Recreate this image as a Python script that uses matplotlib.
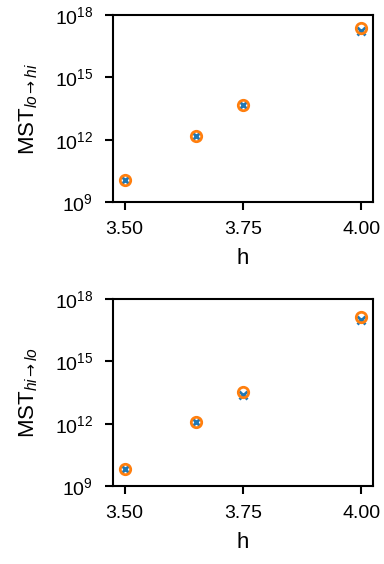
import matplotlib
matplotlib.use("Agg")
from matplotlib import pyplot as plt
from matplotlib import ticker

h = [3.50, 3.65, 3.75, 4.00]

# lo -> hi
mst_lo_hi_x = [1.2e10, 1.5e12, 4.5e13, 1.7e17]
mst_lo_hi_o = [1.2e10, 1.5e12, 4.5e13, 2.5e17]
# hi -> lo
mst_hi_lo_x = [6.6e9, 1.15e12, 2.5e13, 9.3e16]
mst_hi_lo_o = [6.6e9, 1.15e12, 3.4e13, 1.3e17]

ylabels = [r'MST$_{lo\mathsf{\rightarrow}hi}$', r'MST$_{hi\mathsf{\rightarrow}lo}$']
xticks = [3.50, 3.75, 4.00]
yticks = [1e9, 1e12, 1e15, 1e18]

plt.rcParams['font.family'] = ['Liberation Sans', 'DejaVu Sans']
plt.rcParams['mathtext.fontset'] = 'custom'
plt.rcParams['mathtext.rm'] = 'Liberation Sans'
plt.rcParams['mathtext.it'] = 'Liberation Sans:italic'
plt.rcParams['mathtext.sf'] = 'DejaVu Sans'

fig = plt.figure(figsize=(3.84, 5.64), dpi=100)
ax1 = fig.add_axes([0.2935, 0.6418, 0.9714 - 0.2935, 0.9734 - 0.6418])
ax2 = fig.add_axes([0.2935, 0.1383, 0.9714 - 0.2935, 0.4699 - 0.1383])

panels = [(ax1, mst_lo_hi_x, mst_lo_hi_o), (ax2, mst_hi_lo_x, mst_hi_lo_o)]
for i, (ax, yx, yo) in enumerate(panels):
    ax.plot(h, yx, 'x', color='C0', ms=6, mew=2)
    ax.plot(h, yo, 'o', color='C1', mfc='none', ms=7.5, mew=2)
    ax.set_yscale('log')
    ax.set_ylim(1e9, 1e18)
    ax.set_yticks(yticks)
    ax.yaxis.set_minor_locator(ticker.NullLocator())
    ax.set_xticks(xticks)
    ax.set_xticklabels(['%.2f' % t for t in xticks])
    ax.set_xlabel('h', fontsize=16, labelpad=7)
    ax.set_ylabel(ylabels[i], fontsize=16, labelpad=11)
    for s in ax.spines.values():
        s.set_linewidth(1.5)
    ax.tick_params(width=1.5, length=6, labelsize=14, pad=8)

fig.savefig('out.png', dpi=100)
